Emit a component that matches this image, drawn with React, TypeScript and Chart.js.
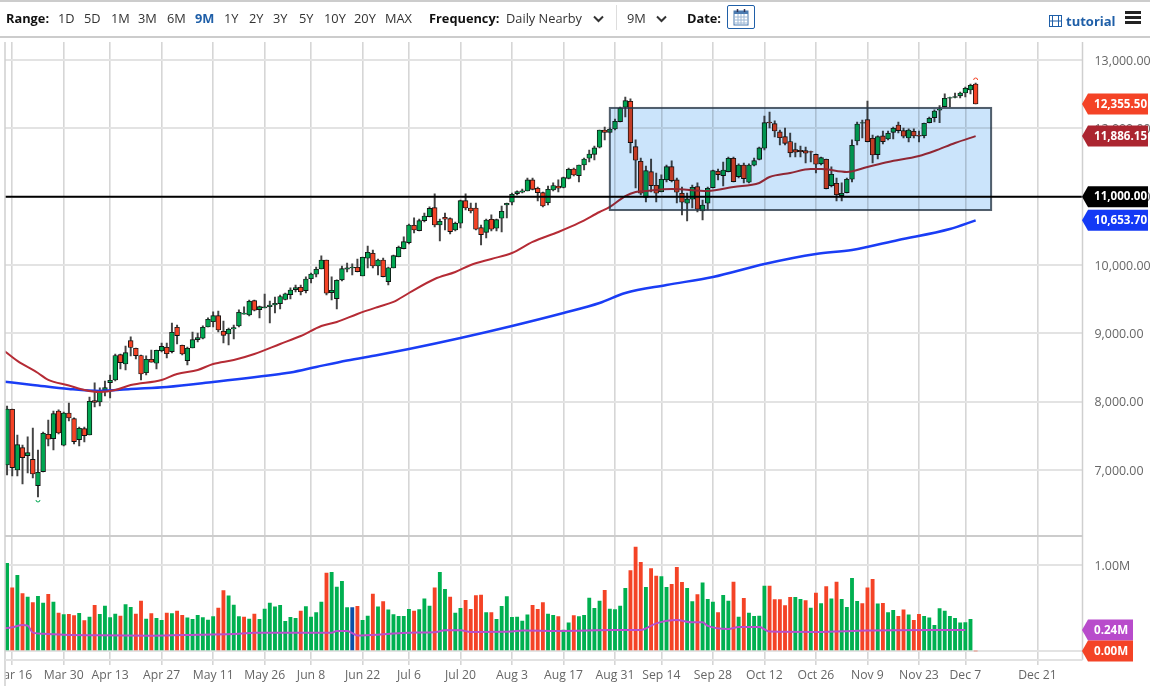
import React, { useEffect, useRef } from "react"
import Chart from "chart.js/auto"

const opens = [7075,7890,7002,7328,7211,7158,6772,6977,7524,7460,7865,7363,7836,7752,7445,7606,7514,8016,7997,8172,8279,8319,8689,8553,8894,8782,8677,8425,8621,8563,8746,8797,8733,9090,8826,8601,8787,8908,8929,9094,9171,9259,9031,8991,9065,9109,9280,9269,9479,9347,9372,9391,9416,9435,9496,9567,9640,9675,9625,9800,9865,9942,10074,9596,9508,9782,9938,9957,9967,9840,10099,10172,9986,10074,9757,9957,10122,10240,10327,10582,10503,10649,10708,10839,10586,10699,10678,10513,10611,10942,10835,10835,10547,10479,10670,10538,10684,10879,10918,11044,11065,11084,11245,11123,11059,10912,11098,11157,11135,11269,11405,11308,11464,11562,11620,11723,11976,11942,11991,12098,12308,12396,11732,11518,10991,11366,11167,11073,11245,11439,11245,11050,10904,10962,11147,10791,10904,11132,11372,11308,11366,11562,11293,11464,11211,11460,11547,11708,12093,12068,11947,11878,11808,11688,11679,11673,11659,11620,11479,11547,11161,11196,11015,11059,11255,11815,12074,12127,11855,11615,11889,11844,11942,12049,11966,11859,11957,11898,11892,12083,12156,12264,12317,12440,12454,12474,12517,12561,12649]
const closes = [7894,7036,7372,7182,7255,6943,6968,7539,7451,7826,7543,7836,7763,7416,7612,7504,8007,7992,8162,8206,8314,8677,8572,8718,8794,8674,8406,8621,8578,8753,8809,8703,9016,8967,8699,8782,8908,8937,9090,9207,9259,9050,8972,9060,9084,9309,9299,9470,9338,9391,9387,9416,9441,9540,9580,9635,9669,9610,9796,9869,9938,10074,9587,9631,9777,9947,9961,9972,9903,10114,10187,9986,10074,9830,9961,10137,10260,10342,10586,10513,10649,10718,10830,10586,10640,10670,10488,10611,10942,10835,10791,10523,10444,10659,10523,10664,10787,10904,11035,11073,11084,11245,11108,11059,10864,11108,11164,11123,11278,11401,11318,11464,11552,11625,11713,11976,11942,11986,12103,12298,12405,11790,11533,11050,11381,11161,11050,11255,11439,11234,11065,10918,10967,11138,10816,10879,11123,11381,11322,11391,11562,11220,11464,11264,11464,11527,11713,12083,12078,11961,11863,11781,11640,11650,11659,11635,11650,11474,11571,11117,11328,11029,11050,11255,11752,12064,12083,11805,11610,11878,11805,11928,12001,11966,11884,11976,11888,11884,12074,12147,12254,12283,12440,12449,12463,12517,12586,12630,12355.5]
const highs = [7938,7894,7514,7367,7485,7616,7294,7558,7733,7865,7880,7850,7982,7763,7631,7631,8070,8275,8202,8304,8392,8699,8699,8816,8948,8787,8684,8670,8757,8757,8860,8860,9152,9123,8830,8801,9021,9006,9109,9226,9314,9328,9182,9079,9123,9343,9387,9489,9489,9401,9577,9474,9533,9562,9591,9665,9708,9708,9826,9884,9972,10133,10074,9826,9782,9986,10030,10016,10089,10118,10279,10220,10089,10103,9972,10147,10279,10411,10601,10689,10674,10762,10850,11040,10674,10762,10689,10630,10952,11040,10908,10908,10586,10674,10733,10674,10864,10908,11054,11084,11113,11274,11274,11142,11069,11157,11201,11245,11288,11420,11420,11464,11566,11683,11742,11976,12020,12005,12137,12312,12459,12430,11830,11566,11449,11552,11347,11318,11464,11523,11274,11142,11054,11171,11201,10952,11142,11391,11405,11508,11581,11581,11479,11493,11479,11566,11727,12181,12239,12108,11976,12005,11932,11786,11742,11727,11669,11625,11581,11552,11435,11274,11201,11274,11830,12093,12122,12400,11903,11889,11961,11961,12020,12093,12005,11991,11991,11961,12078,12166,12269,12332,12503,12459,12517,12532,12605,12649,12663]
const lows = [6929,6914,6914,6797,6958,6885,6607,6973,7353,7294,7529,7353,7719,7382,7353,7412,7514,7924,7938,8085,8055,8304,8480,8465,8670,8626,8319,8392,8578,8480,8728,8640,8714,8845,8684,8538,8787,8875,8918,9094,9094,9021,8860,8830,8918,9094,9280,9255,9328,9226,9372,9152,9299,9357,9489,9504,9606,9562,9591,9738,9826,9942,9562,9489,9357,9767,9899,9855,9899,9840,9957,9957,9855,9826,9708,9957,10118,10235,10308,10469,10498,10630,10703,10557,10352,10513,10454,10498,10542,10806,10762,10513,10294,10396,10498,10498,10484,10689,10879,11025,11054,11084,11098,10937,10850,10879,11084,11069,11128,11259,11303,11215,11391,11508,11537,11713,11830,11932,11976,12093,12166,11640,11128,11025,10923,11069,10923,11069,11215,11215,10908,10733,10645,10835,10776,10659,10806,11128,11245,11157,11362,11215,11274,11201,11201,11449,11537,11683,12005,11874,11757,11757,11581,11581,11581,11493,11508,11347,11464,11113,11142,10937,10937,11054,11215,11757,11859,11800,11493,11552,11771,11830,11844,11932,11859,11800,11859,11800,11859,12078,12093,12083,12313,12313,12444,12444,12459,12503,12355.5]

const volumes = [1.019,.733,.88,.667,.628,.562,.636,.558,.659,.57,.442,.422,.426,.411,.438,.353,.395,.531,.426,.523,.388,.43,.407,.539,.508,.43,.581,.372,.434,.38,.357,.442,.434,.465,.415,.384,.368,.415,.388,.36,.399,.5,.702,.64,.535,.399,.395,.372,.43,.368,.488,.558,.512,.531,.345,.391,.38,.465,.516,.395,.446,.57,.907,.915,.744,.81,.504,.504,.519,.357,.407,.663,.512,.574,.477,.422,.403,.403,.484,.465,.481,.605,.523,.733,.915,.717,.628,.442,.496,.589,.484,.643,.651,.446,.446,.368,.519,.632,.391,.395,.349,.419,.531,.484,.562,.43,.415,.399,.244,.326,.411,.399,.415,.616,.496,.581,.705,.488,.481,.523,.729,.934,1.209,1.031,.74,.957,.872,.864,.74,.775,.973,.798,.729,.574,.655,.791,.601,.57,.446,.647,.581,.802,.395,.612,.442,.403,.407,.756,.756,.597,.597,.527,.624,.624,.601,.585,.5,.674,.55,.748,.605,.802,.601,.508,.845,.578,.55,.733,.833,.547,.554,.446,.473,.403,.477,.419,.357,.426,.403,.384,.298,.492,.465,.403,.38,.326,.329,.368,0]
const volumeSides = ("GRGRGRGGRG" + "RGRRGRGRGG" + "GGRGGRRGRG" + "GRGRRGGGGG" + "GRRGGGRGRG" + "GGGGGGGRGG" + "GGRGGGGBRG" + "GRGRGGGGGR" + "GGGRGGRGGR" + "RRRGRGGGGG" + "GGRRRGGRGG" + "RGGGGGRGGG" + "GRRRGRRGGR" + "RRGGRGGGRG" + "GRGRGGGGRR" + "RRRGGRGRGR" + "GRGGGGRRRG" + "RGGRRGRRGG" + "GGGGGGGGR").split("")

const slowMaIndex = [-1,5,12,18,24,31,40,53,55,60,66,72,78,88,98,108,115,120,128,137,147,157,164,173,183,188]
const slowMa = [8297,8246,8187,8158,8187,8216,8289,8406,8428,8509,8604,8684,8772,8933,9109,9299,9445,9591,9708,9826,10016,10162,10220,10367,10528,10653.7]
const fastMaIndex = [-1,2,6,8,12,15,18,21,24,30,33,37,40,44,48,53,57,61,64,68,72,75,78,83,87,90,94,98,102,107,111,115,117,120,122,124,129,136,141,146,148,152,156,158,163,167,171,177,180,184,188]
const fastMa = [8772,8597,8421,8319,8238,8172,8143,8172,8245,8319,8406,8465,8553,8611,8699,8845,8962,9109,9167,9284,9387,9460,9591,9796,9899,10001,10089,10176,10338,10484,10616,10776,10850,11010,11069,11084,11113,11084,11142,11201,11288,11347,11405,11405,11362,11435,11508,11596,11669,11786,11886.15]
const volumeMaIndex = [-1,1,3,4,5,7,11,18,28,37,45,48,63,64,66,68,73,78,83,85,88,90,98,100,107,118,123,126,130,133,135,136,140,142,146,148,157,167,186]
const volumeMa = [.26,.275,.302,.295,.213,.201,.19,.182,.178,.19,.201,.213,.213,.232,.232,.181,.194,.213,.217,.24,.24,.221,.225,.237,.233,.244,.244,.321,.36,.333,.333,.291,.256,.279,.279,.225,.221,.237,.244]

const dateTickIndex = [1,11,20,30,40,50,59,69,78,88,98,108,118,127,137,147,157,167,177,186,200]
const dateTickLabels = ["Mar 16","Mar 30","Apr 13","Apr 27","May 11","May 26","Jun 8","Jun 22","Jul 6","Jul 20","Aug 3","Aug 17","Aug 31","Sep 14","Sep 28","Oct 12","Oct 26","Nov 9","Nov 23","Dec 7","Dec 21"]
const priceTicks = [7000,8000,9000,10000,11000,12000,13000]
const volumeTicks = [0,1]

const priceTagValues = [12355.5,11886.15,11000,10653.7]
const priceTagLabels = ["12,355.50","11,886.15","11,000.00","10,653.70"]
const priceTagColors = ["#f44326","#ab2530","#000000","#1339f5"]
const volumeTagValues = [0.244,0]
const volumeTagLabels = ["0.24M","0.00M"]
const volumeTagColors = ["#b84bcb","#f44326"]

const levelLine = 11000
const boxIndex = [117,191]
const boxPrice = [10805,12298]

const rangeLabels = ["1D","5D","1M","3M","6M","9M","1Y","2Y","3Y","5Y","10Y","20Y","MAX"]
const rangeLefts = [58,84,111,138,167,195,224,249,273,299,324,354,385]

const GREEN = "#00a651"
const RED = "#f44326"

function tag(ctx: CanvasRenderingContext2D, y: number, right: number, color: string, text: string) {
  ctx.fillStyle = color
  ctx.beginPath()
  ctx.moveTo(1082, y)
  ctx.lineTo(1088, y - 10.5)
  ctx.lineTo(right, y - 10.5)
  ctx.lineTo(right, y + 10.5)
  ctx.lineTo(1088, y + 10.5)
  ctx.closePath()
  ctx.fill()
  ctx.fillStyle = "#fff"
  ctx.font = "bold 11.6px 'Open Sans'"
  ctx.textAlign = "left"
  ctx.textBaseline = "middle"
  ctx.fillText(text, 1094, y + 0.5)
}

// box, level line and the price tags sit on top of the candles
const overlayPlugin = {
  id: "overlay",
  afterDatasetsDraw(chart: any) {
    const { ctx, scales, chartArea } = chart
    const { x, y } = scales
    ctx.save()
    const bx0 = x.getPixelForValue(boxIndex[0])
    const bx1 = x.getPixelForValue(boxIndex[1])
    const by0 = y.getPixelForValue(boxPrice[1])
    const by1 = y.getPixelForValue(boxPrice[0])
    ctx.globalCompositeOperation = "multiply"
    ctx.fillStyle = "#cbe4fb"
    ctx.fillRect(bx0, by0, bx1 - bx0, by1 - by0)
    ctx.globalCompositeOperation = "source-over"
    ctx.strokeStyle = "rgba(40,55,70,0.8)"
    ctx.lineWidth = 2
    ctx.strokeRect(bx0, by0, bx1 - bx0, by1 - by0)

    const ly = y.getPixelForValue(levelLine)
    ctx.strokeStyle = "#000"
    ctx.beginPath()
    ctx.moveTo(chartArea.left, ly)
    ctx.lineTo(chartArea.right, ly)
    ctx.stroke()

    // little high / low markers
    const hiIdx = highs.indexOf(Math.max(...highs))
    const loIdx = lows.indexOf(Math.min(...lows))
    ctx.lineWidth = 1
    ctx.strokeStyle = RED
    ctx.beginPath()
    ctx.arc(x.getPixelForValue(hiIdx), y.getPixelForValue(highs[hiIdx]) - 3, 2, Math.PI, 0)
    ctx.stroke()
    ctx.strokeStyle = GREEN
    ctx.beginPath()
    ctx.arc(x.getPixelForValue(loIdx), y.getPixelForValue(lows[loIdx]) + 3, 2, 0, Math.PI)
    ctx.stroke()
    ctx.restore()
  },
  afterDraw(chart: any) {
    const { ctx, scales, chartArea } = chart
    ctx.save()
    // clip the first date label at the left edge of the plot
    ctx.fillStyle = "#fff"
    ctx.fillRect(0, chartArea.bottom + 1, 5, 690 - chartArea.bottom)
    ctx.strokeStyle = "#cfcfcf"
    ctx.lineWidth = 1.5
    ctx.beginPath()
    ctx.moveTo(chartArea.left, chartArea.top)
    ctx.lineTo(chartArea.left, 686)
    ctx.moveTo(chartArea.right, chartArea.top)
    ctx.lineTo(chartArea.right, chartArea.bottom)
    ctx.stroke()
    ctx.strokeStyle = "#cccccc"
    ctx.lineWidth = 2
    ctx.beginPath()
    ctx.moveTo(chartArea.left, scales.y1.top)
    ctx.lineTo(chartArea.right, scales.y1.top)
    ctx.stroke()
    ctx.strokeStyle = "#e2e2e2"
    ctx.beginPath()
    ctx.moveTo(chartArea.left, chartArea.bottom)
    ctx.lineTo(chartArea.right, chartArea.bottom)
    ctx.stroke()

    priceTagValues.forEach((v, i) => tag(ctx, scales.y.getPixelForValue(v), 1148, priceTagColors[i], priceTagLabels[i]))
    volumeTagValues.forEach((v, i) => tag(ctx, scales.y1.getPixelForValue(v), 1133, volumeTagColors[i], volumeTagLabels[i]))
    ctx.restore()
  },
}

function PriceChart() {
  const canvasRef = useRef<HTMLCanvasElement>(null)

  useEffect(() => {
    if (!canvasRef.current) return
    Chart.defaults.font.family = "'Open Sans'"
    const sideColor = (s: string) => (s === "G" ? "#00b050" : s === "R" ? RED : "#0d4fa8")

    const chart = new Chart(canvasRef.current, {
      type: "bar",
      data: {
        datasets: [
          {
            type: "line",
            data: fastMa.map((v, i) => ({ x: fastMaIndex[i], y: v })),
            yAxisID: "y",
            borderColor: "#b52b35",
            borderWidth: 2,
            pointRadius: 0,
            cubicInterpolationMode: "monotone",
            order: 1,
          },
          {
            type: "line",
            data: slowMa.map((v, i) => ({ x: slowMaIndex[i], y: v })),
            yAxisID: "y",
            borderColor: "#1a3df5",
            borderWidth: 2.5,
            pointRadius: 0,
            cubicInterpolationMode: "monotone",
            order: 2,
          },
          {
            type: "line",
            data: volumeMa.map((v, i) => ({ x: volumeMaIndex[i], y: v })),
            yAxisID: "y1",
            borderColor: "#b84ecb",
            borderWidth: 2,
            pointRadius: 0,
            cubicInterpolationMode: "monotone",
            order: 1,
          },
          {
            type: "bar",
            data: opens.map((o, i) => ({ x: i, y: [o, closes[i]] })),
            yAxisID: "y",
            backgroundColor: opens.map((o, i) => (closes[i] >= o ? GREEN : RED)),
            borderColor: "#111",
            borderWidth: 0.9,
            borderSkipped: false,
            barThickness: 4.8,
            grouped: false,
            order: 4,
          },
          {
            type: "bar",
            data: lows.map((l, i) => ({ x: i, y: [l, highs[i]] })),
            yAxisID: "y",
            backgroundColor: "#444",
            borderWidth: 0,
            barThickness: 1.3,
            grouped: false,
            order: 5,
          },
          {
            type: "bar",
            data: volumes.map((v, i) => ({ x: i, y: v })),
            yAxisID: "y1",
            backgroundColor: volumeSides.map(sideColor),
            borderWidth: 0,
            barThickness: 3.2,
            grouped: false,
            order: 6,
          },
        ],
      } as any,
      options: {
        animation: false,
        responsive: false,
        layout: { padding: { left: 5, top: 42, right: 0, bottom: 0 } },
        plugins: { legend: { display: false }, tooltip: { enabled: false } },
        scales: {
          x: {
            type: "linear",
            position: "bottom",
            min: -0.4,
            max: 208.74,
            offset: false,
            grid: { offset: false, color: "#d6d6d6", lineWidth: 1.6, tickLength: 5 },
            border: { display: false },
            afterBuildTicks: (axis: any) => {
              axis.ticks = dateTickIndex.map((v) => ({ value: v }))
            },
            afterFit: (axis: any) => {
              axis.height = 30
              axis.paddingLeft = 0
              axis.paddingRight = 0
            },
            ticks: {
              autoSkip: false,
              maxRotation: 0,
              color: "#666",
              padding: 3,
              font: { size: 12.2 },
              callback: (v: any) => dateTickLabels[dateTickIndex.indexOf(v)],
            },
          },
          y: {
            type: "linear",
            position: "right",
            stack: "panels",
            stackWeight: 494,
            min: 6036,
            max: 13263,
            grid: { color: "#e3e3e3", lineWidth: 2, drawTicks: false },
            border: { display: false },
            afterBuildTicks: (axis: any) => {
              axis.ticks = priceTicks.map((v) => ({ value: v }))
            },
            afterFit: (axis: any) => {
              axis.width = 67.5
            },
            ticks: {
              color: "#666",
              padding: 12,
              labelOffset: 1,
              font: { size: 12.4 },
              callback: (v: any) => v.toLocaleString("en-US", { minimumFractionDigits: 2 }),
            },
          },
          y1: {
            type: "linear",
            position: "right",
            stack: "panels",
            stackWeight: 124,
            min: -0.105,
            max: 1.337,
            grid: { color: "#e3e3e3", lineWidth: 2, drawTicks: false },
            border: { display: false },
            afterBuildTicks: (axis: any) => {
              axis.ticks = volumeTicks.map((v) => ({ value: v }))
            },
            afterFit: (axis: any) => {
              axis.width = 67.5
            },
            ticks: {
              color: "#666",
              padding: 12,
              labelOffset: 1,
              font: { size: 12.4 },
              callback: (v: any) => v.toFixed(2) + "M",
            },
          },
        },
      },
      plugins: [overlayPlugin],
    } as any)

    return () => chart.destroy()
  }, [])

  return <canvas ref={canvasRef} width={1150} height={690} style={{ position: "absolute", left: 0, top: 0 }} />
}

const label = (left: number, text: string, extra: React.CSSProperties = {}) => (
  <span key={text + left} style={{ position: "absolute", left, top: 9, lineHeight: "18px", color: "#333", whiteSpace: "nowrap", ...extra }}>
    {text}
  </span>
)

const chevron = (left: number) => (
  <svg style={{ position: "absolute", left, top: 15 }} width="11" height="8" viewBox="0 0 11 8">
    <path d="M1 1.5 L5.5 6 L10 1.5" fill="none" stroke="#333" strokeWidth="2" />
  </svg>
)

function Toolbar() {
  const bold = { fontWeight: 700, color: "#111" }
  return (
    <div style={{ position: "absolute", left: 0, top: 0, width: 1150, height: 38, fontFamily: "'Open Sans'", fontSize: 12.8, zIndex: 1 }}>
      <div style={{ position: "absolute", left: 0, top: 0, width: 1150, height: 2, background: "#ccc" }} />
      <div style={{ position: "absolute", left: 0, top: 36, width: 1150, height: 2, background: "#ccc" }} />
      {label(6, "Range:", bold)}
      {rangeLabels.map((r, i) => label(rangeLefts[i], r, r === "9M" ? { color: "#1f5fa8", fontWeight: 700 } : {}))}
      {label(429, "Frequency:", bold)}
      {label(506, "Daily Nearby")}
      {chevron(593)}
      <div style={{ position: "absolute", left: 616, top: 5, width: 1, height: 25, background: "#ddd" }} />
      {label(627, "9M")}
      {chevron(656)}
      {label(687, "Date:", bold)}
      <div style={{ position: "absolute", left: 727, top: 5, width: 26, height: 22, border: "1px solid #1f5fa8", borderRadius: 2 }}>
        <svg style={{ position: "absolute", left: 5, top: 2 }} width="16" height="18" viewBox="0 0 16 18">
          <rect x="1" y="3" width="14" height="14" fill="#fff" stroke="#4a7ab0" />
          <rect x="1" y="3" width="14" height="3" fill="#4a7ab0" />
          <path d="M1 9H15M1 12H15M1 15H15M5 6V17M8 6V17M11 6V17" stroke="#9db8d6" strokeWidth="1" />
          <path d="M4.5 1V4M11.5 1V4" stroke="#335" strokeWidth="1.5" />
        </svg>
      </div>
      <svg style={{ position: "absolute", left: 1049, top: 15 }} width="13" height="12" viewBox="0 0 13 12">
        <rect x="0.5" y="0.5" width="12" height="11" fill="none" stroke="#1f5fa8" />
        <path d="M3.5 0.5V11.5M9.5 0.5V11.5M0.5 6H12.5" stroke="#1f5fa8" />
      </svg>
      {label(1066, "tutorial", { color: "#1f5fa8", fontWeight: 700, top: 12, fontSize: 13 })}
      <div style={{ position: "absolute", left: 1125, top: 11, width: 16, height: 3, background: "#222" }} />
      <div style={{ position: "absolute", left: 1125, top: 16, width: 16, height: 3, background: "#222" }} />
      <div style={{ position: "absolute", left: 1125, top: 21, width: 16, height: 3, background: "#222" }} />
    </div>
  )
}

export default function App() {
  return (
    <div style={{ position: "fixed", left: 0, top: 0, width: 1150, height: 690, background: "#fff", overflow: "hidden" }}>
      <PriceChart />
      <Toolbar />
    </div>
  )
}
